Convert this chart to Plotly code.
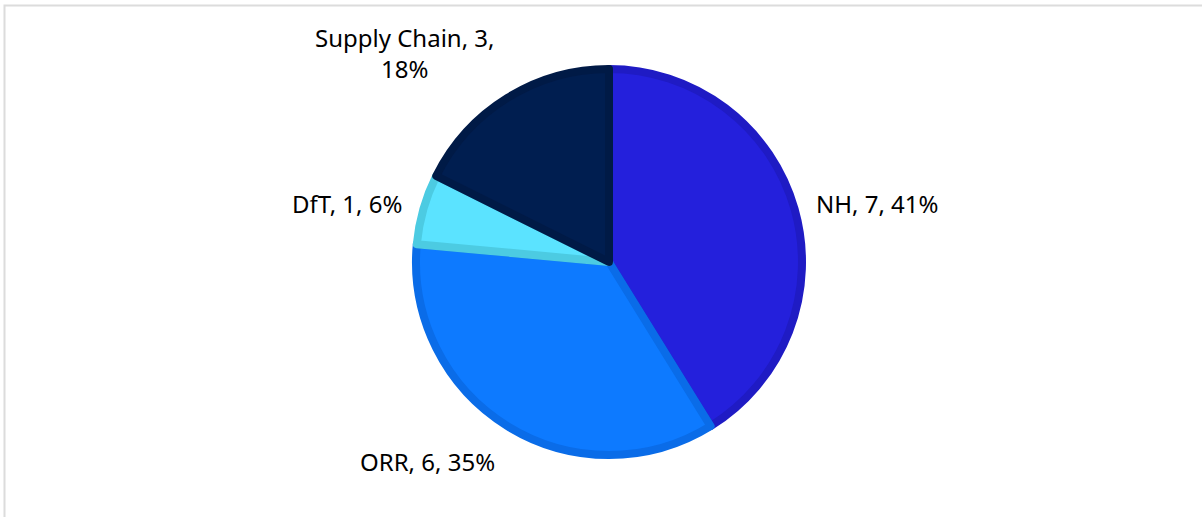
import math
import plotly.graph_objects as go

labels = ["NH", "ORR", "DfT", "Supply Chain"]
values = [7, 6, 1, 3]
fill_colors = ["#2420DC", "#0D7AFF", "#5BE3FF", "#001E50"]
edge_colors = ["#1F1BC4", "#0A6CE8", "#4CCBE2", "#001A46"]

W, H = 1202, 517
total = sum(values)

# pie geometry (pixels)
cx, cy, R = 609, 262, 193
label_r = 1.08 * (R + 4)

fig = go.Figure()
fig.add_trace(
    go.Pie(
        labels=labels,
        values=values,
        textinfo="none",
        sort=False,
        direction="clockwise",
        rotation=0,
        marker=dict(colors=fill_colors, line=dict(color=edge_colors, width=8)),
        domain=dict(x=[(cx - 580) / W, (cx + 580) / W], y=[(H - cy - R) / H, (H - cy + R) / H]),
        showlegend=False,
        hoverinfo="label+value+percent",
    )
)

# data labels placed outside each slice, at its mid angle
cum = 0
for lab, v in zip(labels, values):
    mid = (cum + v / 2) / total * 2 * math.pi
    cum += v
    s, c = math.sin(mid), math.cos(mid)
    pct = round(100 * v / total)
    txt = f"{lab}, {v}, {pct}%"
    if lab == "Supply Chain":
        txt = f"{lab}, {v},<br>{pct}%"
    xa = "left" if s > 0.2 else ("right" if s < -0.2 else "center")
    ya = "bottom" if c > 0.5 else ("top" if c < -0.5 else "middle")
    fig.add_annotation(
        x=(cx + label_r * s) / W, y=(H - cy + label_r * c) / H,
        xref="paper", yref="paper", text=txt, showarrow=False,
        xanchor=xa, yanchor=ya, align="center",
        yshift=-6 if ya == "bottom" else 0,
        font=dict(family="Noto Sans", size=24, color="#000000"),
    )

# light frame around the chart area
fig.add_shape(
    type="rect", xref="paper", yref="paper",
    x0=4.5 / W, x1=1.02, y0=-0.05, y1=1 - 5.5 / H,
    line=dict(color="#dcdcdc", width=2), fillcolor="rgba(0,0,0,0)",
)

fig.update_layout(
    width=W,
    height=H,
    margin=dict(l=0, r=0, t=0, b=0, autoexpand=False),
    paper_bgcolor="white",
    plot_bgcolor="white",
    font=dict(family="Noto Sans"),
)

# drop the default 8px page margin so the figure sits at the window's corner
fig.write_html(
    "out.html",
    config={"displayModeBar": False},
    post_script="document.body.style.margin='0px';",
)
